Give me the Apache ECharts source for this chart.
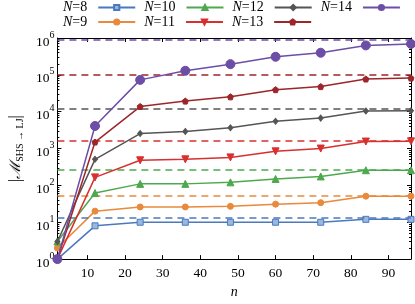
<!DOCTYPE html>
<html>
<head>
<meta charset="utf-8">
<script src="https://cdn.jsdelivr.net/npm/echarts@6/dist/echarts.min.js"></script>
<style>html,body{margin:0;padding:0;background:#fff}#c{width:415px;height:304px}</style>
</head>
<body>
<div id="c"></div>
<script>
// ---- data ----
const nValues = [2, 12, 24, 36, 48, 60, 72, 84, 96];
const seriesNames = ['N=8', 'N=9', 'N=10', 'N=11', 'N=12', 'N=13', 'N=14'];
const valsN8  = [1, 8, 10, 10, 10, 10, 10, 12, 12];
const valsN9  = [2, 20, 26, 26, 27, 31, 34, 51, 51];
const valsN10 = [3, 62, 110, 110, 121, 150, 175, 258, 258];
const valsN11 = [1, 165, 480, 510, 575, 840, 1000, 1550, 1570];
const valsN12 = [3, 510, 2550, 2900, 3650, 5500, 6700, 10500, 10600];
const valsN13 = [1, 1500, 13800, 19400, 25300, 39600, 48000, 77000, 81500];
const valsN14 = [1, 4100, 73000, 129000, 195000, 309000, 398000, 630000, 690000];
const plateaus = [13, 52, 263, 1659, 11980, 98529, 895478];
const xTickLabels = [10, 20, 30, 40, 50, 60, 70, 80, 90];
const yTickLabels = [1, 10, 100, 1000, 10000, 100000, 1000000];

const allVals = [valsN8, valsN9, valsN10, valsN11, valsN12, valsN13, valsN14];
const colors = ['#4a79be', '#e8893b', '#4ea94e', '#d8302f', '#555555', '#9d262b', '#6c4ea7'];
const fills  = ['#9bb7de', '#e8893b', '#4ea94e', '#d8302f', '#555555', '#9d262b', '#6c4ea7'];
const symbols = ['rect', 'circle', 'triangle', 'triangle', 'diamond',
  'path://M0,-10 L9.51,-3.09 L5.88,8.09 L-5.88,8.09 L-9.51,-3.09 Z', 'circle'];
const sizes = [6, 6, 7, 7, [5, 6], 6, 9];
const rotations = [0, 0, 0, 180, 0, 0, 0];

const minorVals = [];
for (let e = 0; e < 6; e++) for (let k = 2; k <= 9; k++) minorVals.push(k * Math.pow(10, e));

const FONT = "'Liberation Serif', 'DejaVu Serif', serif";

const series = seriesNames.map((name, i) => ({
  name: name,
  type: 'line',
  xAxisIndex: 0,
  yAxisIndex: 0,
  data: nValues.map((n, j) => [n, allVals[i][j]]),
  symbol: symbols[i],
  symbolSize: sizes[i],
  symbolRotate: rotations[i],
  showAllSymbol: true,
  lineStyle: { color: colors[i], width: 1.5 },
  itemStyle: { color: fills[i], borderColor: colors[i], borderWidth: 1, opacity: 1 },
  emphasis: { disabled: true },
  z: 3 + i,
  markLine: {
    silent: true,
    symbol: 'none',
    label: { show: false },
    lineStyle: { color: colors[i], width: 1.5, type: [7, 5], opacity: 1 },
    emphasis: { disabled: true },
    data: [{ yAxis: plateaus[i] }]
  }
}));

const legendFormatter = (name) => '{i|N}{r|' + name.slice(1) + '}';
const legendText = {
  fontFamily: FONT, fontSize: 14, color: '#000', padding: [0, 6, 0, 0],
  rich: {
    i: { fontFamily: FONT, fontSize: 14, fontStyle: 'italic', color: '#000' },
    r: { fontFamily: FONT, fontSize: 14, color: '#000' }
  }
};
const legendBase = {
  orient: 'horizontal', align: 'right', itemWidth: 37, itemHeight: 6.5, itemGap: 8,
  padding: 0, formatter: legendFormatter, textStyle: legendText, selectedMode: false
};

const yBase = {
  type: 'log', logBase: 10, min: 1, max: 1000000,
  splitLine: { show: false }, minorTick: { show: false }
};
const xBase = { type: 'value', min: 2, max: 96, splitLine: { show: false } };

const option = {
  animation: false,
  backgroundColor: '#fff',
  grid: { left: 47, right: 4, top: 38, bottom: 40, containLabel: false },
  legend: [
    Object.assign({}, legendBase, { left: 63, top: 0.5, data: ['N=8', 'N=10', 'N=12', 'N=14'] }),
    Object.assign({}, legendBase, { left: 63, top: 15, data: ['N=9', 'N=11', 'N=13'] })
  ],
  xAxis: [
    Object.assign({}, xBase, {
      position: 'bottom',
      name: 'n', nameLocation: 'middle', nameGap: 24,
      nameTextStyle: { fontFamily: FONT, fontSize: 14, fontStyle: 'italic', color: '#000' },
      axisLine: { show: true, lineStyle: { color: '#000', width: 1 } },
      axisTick: { show: true, inside: true, length: 4, customValues: xTickLabels, lineStyle: { color: '#000' } },
      axisLabel: { show: true, customValues: xTickLabels, margin: 7, fontFamily: FONT, fontSize: 13.5, color: '#000' }
    }),
    Object.assign({}, xBase, {
      position: 'top',
      axisLine: { show: true, lineStyle: { color: '#000', width: 1 } },
      axisTick: { show: true, inside: true, length: 4, customValues: xTickLabels, lineStyle: { color: '#000' } },
      axisLabel: { show: false, customValues: xTickLabels }
    })
  ],
  yAxis: [
    Object.assign({}, yBase, {
      position: 'left',
      name: '{bar||}{m|ℳ}{sub|SHS → LJ}{bar||}',
      nameLocation: 'middle', nameGap: 30, nameRotate: 90,
      nameTextStyle: {
        color: '#000', fontFamily: FONT,
        rich: {
          bar: { fontFamily: FONT, fontSize: 16, color: '#000' },
          m: { fontFamily: FONT, fontSize: 15, fontStyle: 'italic', color: '#000' },
          sub: { fontFamily: FONT, fontSize: 10, color: '#000', padding: [8, 0, 0, 0] }
        }
      },
      axisLine: { show: true, lineStyle: { color: '#000', width: 1 } },
      axisTick: { show: true, inside: true, length: 4, lineStyle: { color: '#000' } },
      axisLabel: {
        show: true, margin: 3, color: '#000',
        formatter: (v) => '{b|10}{s|' + Math.round(Math.log10(v)) + '}',
        rich: {
          b: { fontFamily: FONT, fontSize: 13.5, color: '#000', padding: [8, 0, 0, 0] },
          s: { fontFamily: FONT, fontSize: 10, color: '#000', padding: [0, 0, 6, 0] }
        }
      }
    }),
    Object.assign({}, yBase, {
      position: 'left',
      axisLine: { show: false },
      axisTick: { show: true, inside: true, length: 2, customValues: minorVals, lineStyle: { color: '#000' } },
      axisLabel: { show: false, customValues: minorVals }
    }),
    Object.assign({}, yBase, {
      position: 'right',
      axisLine: { show: true, lineStyle: { color: '#000', width: 1 } },
      axisTick: { show: true, inside: true, length: 4, lineStyle: { color: '#000' } },
      axisLabel: { show: false }
    }),
    Object.assign({}, yBase, {
      position: 'right',
      axisLine: { show: false },
      axisTick: { show: true, inside: true, length: 2, customValues: minorVals, lineStyle: { color: '#000' } },
      axisLabel: { show: false, customValues: minorVals }
    })
  ],
  series: series
};

const chart = echarts.init(document.getElementById('c'), null, { renderer: 'canvas' });
chart.setOption(option);
</script>
</body>
</html>
